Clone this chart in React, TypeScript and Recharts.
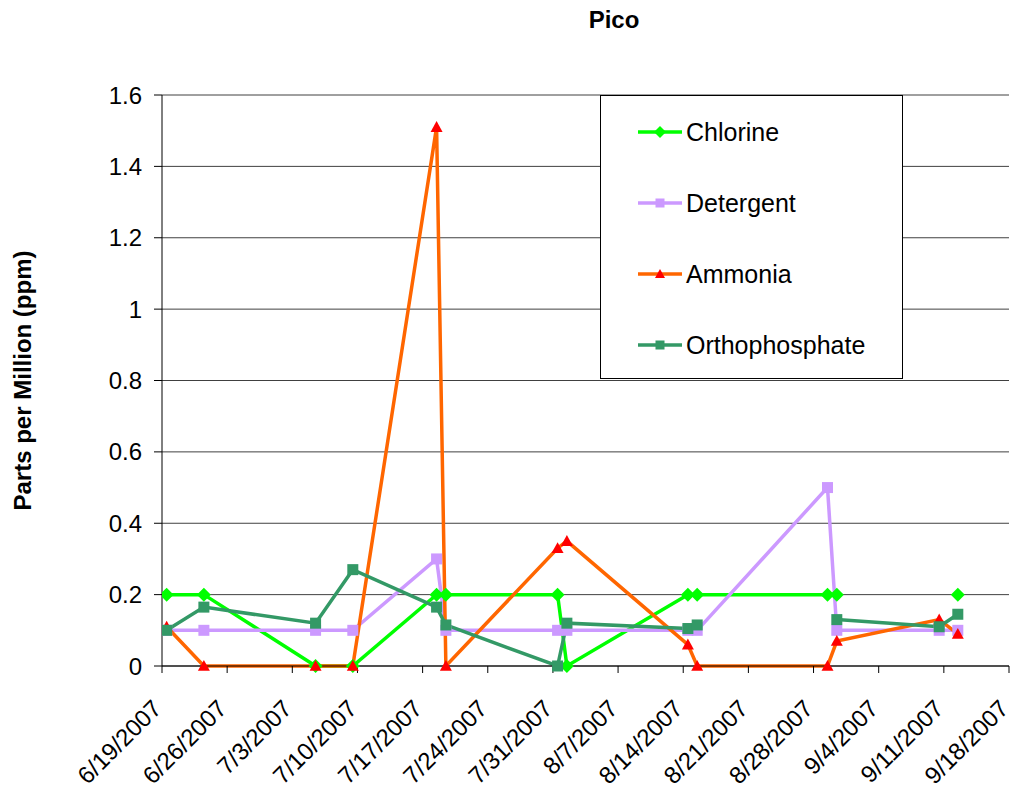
import { CartesianGrid, Legend, Line, LineChart, XAxis, YAxis } from "recharts";

// sample dates and readings (ppm)
const sampleDates = [
    "6/19/2007", "6/23/2007", "7/5/2007", "7/9/2007", "7/18/2007", "7/19/2007", "7/31/2007",
    "8/1/2007", "8/14/2007", "8/15/2007", "8/29/2007", "8/30/2007", "9/10/2007", "9/12/2007",
];
const chlorine = [0.2, 0.2, 0, 0, 0.2, 0.2, 0.2, 0, 0.2, 0.2, 0.2, 0.2, null, 0.2];
const detergent = [0.1, 0.1, 0.1, 0.1, 0.3, 0.1, 0.1, 0.1, 0.1, 0.1, 0.5, 0.1, 0.1, 0.1];
const ammonia = [0.11, 0, 0, 0, 1.51, 0, 0.33, 0.35, 0.06, 0, 0, 0.07, 0.13, 0.09];
const orthophosphate = [0.1, 0.165, 0.12, 0.27, 0.165, 0.115, 0, 0.12, 0.105, 0.115, null, 0.13, 0.11, 0.145];

const tickDates = [
    "6/19/2007", "6/26/2007", "7/3/2007", "7/10/2007", "7/17/2007", "7/24/2007", "7/31/2007",
    "8/7/2007", "8/14/2007", "8/21/2007", "8/28/2007", "9/4/2007", "9/11/2007", "9/18/2007",
];
const yTicks = [0, 0.2, 0.4, 0.6, 0.8, 1, 1.2, 1.4, 1.6];

const FONT = '"Liberation Sans", Arial, sans-serif';

// days since the first tick date
const dayOf = (s: string) => {
    const [m, d, y] = s.split("/").map(Number);
    return (Date.UTC(y, m - 1, d) - Date.UTC(2007, 5, 19)) / 86400000;
};
const labelOf = new Map(tickDates.map((t) => [dayOf(t), t]));

// Excel puts each date in the middle of its day
const data = sampleDates.map((s, i) => ({
    x: dayOf(s) + 0.5,
    chlorine: chlorine[i],
    detergent: detergent[i],
    ammonia: ammonia[i],
    orthophosphate: orthophosphate[i],
}));

type Shape = "diamond" | "square" | "triangle";

function marker(shape: Shape, cx: number, cy: number, size: number, fill: string, key?: any) {
    const r = size / 2;
    if (shape === "diamond")
        return <path key={key} d={`M${cx},${cy - r}L${cx + r},${cy}L${cx},${cy + r}L${cx - r},${cy}Z`} fill={fill} />;
    if (shape === "square")
        return <rect key={key} x={cx - r} y={cy - r} width={size} height={size} fill={fill} />;
    return <path key={key} d={`M${cx},${cy - r}L${cx + r},${cy + r * 0.8}L${cx - r},${cy + r * 0.8}Z`} fill={fill} />;
}

const series = [
    { key: "chlorine", name: "Chlorine", stroke: "#00FF00", fill: "#00FF00", shape: "diamond" as Shape, size: 14 },
    { key: "detergent", name: "Detergent", stroke: "#CC99FF", fill: "#CC99FF", shape: "square" as Shape, size: 11 },
    { key: "ammonia", name: "Ammonia", stroke: "#FF6600", fill: "#FF0000", shape: "triangle" as Shape, size: 12 },
    { key: "orthophosphate", name: "Orthophosphate", stroke: "#339966", fill: "#339966", shape: "square" as Shape, size: 11 },
];

const DateTick = ({ x, y, payload }: any) => {
    const px = x + 1;
    const py = y + 37;
    return (
        <text x={px} y={py} transform={`rotate(-45 ${px} ${py})`} textAnchor="end"
              fontSize={24} fontFamily={FONT} fill="#000">
            {labelOf.get(payload.value) ?? ""}
        </text>
    );
};

const LegendBox = () => (
    <div style={{
        width: 301, height: 282, border: "1px solid #000", background: "#fff",
        fontFamily: FONT, fontSize: 25, boxSizing: "content-box",
    }}>
        {series.map((s, i) => (
            <div key={s.key} style={{ position: "absolute", left: 38, top: 37 + i * 71 - 16, height: 32, display: "flex", alignItems: "center" }}>
                <svg width={44} height={20} style={{ marginRight: 4 }}>
                    <line x1={0} y1={10} x2={44} y2={10} stroke={s.stroke} strokeWidth={3.5} />
                    {marker(s.shape, 22, 10, s.size - 2, s.fill)}
                </svg>
                <span>{s.name}</span>
            </div>
        ))}
    </div>
);

export default function App() {
    return (
        <div style={{ position: "absolute", left: 0, top: 0, width: 1019, height: 789, background: "#fff" }}>
            <div style={{
                position: "absolute", left: 0, width: 1228, top: 6, textAlign: "center",
                fontFamily: FONT, fontSize: 24, fontWeight: "bold",
            }}>
                Pico
            </div>
            <LineChart width={1019} height={789} data={data} margin={{ top: 95, right: 10, bottom: 10, left: 0 }}>
                <CartesianGrid vertical={false} stroke="#404040" />
                <XAxis dataKey="x" type="number" domain={[0, 91]} ticks={tickDates.map(dayOf)}
                       allowDataOverflow height={113} tickSize={7} tickMargin={0}
                       stroke="#000" tick={<DateTick />} interval={0} />
                <YAxis domain={[0, 1.6]} ticks={yTicks} width={162} tickSize={8} tickMargin={12}
                       stroke="#000" interval={0}
                       tick={{ fontSize: 24, fontFamily: FONT, fill: "#000" }}
                       label={{
                           value: "Parts per Million (ppm)", angle: -90, position: "insideLeft", offset: 22,
                           style: { textAnchor: "middle", fontWeight: "bold", fontSize: 24, fontFamily: FONT, fill: "#000" },
                       }} />
                <Legend layout="vertical" align="center" verticalAlign="middle" content={<LegendBox />}
                        wrapperStyle={{ left: 600, top: 95, width: 303, height: 284 }} />
                {series.map((s) => (
                    <Line key={s.key} dataKey={s.key} name={s.name} stroke={s.stroke} strokeWidth={3.5}
                          isAnimationActive={false} connectNulls={false}
                          dot={(p: any) => (p.cx == null || p.cy == null || p.value == null
                              ? <g key={p.index} />
                              : marker(s.shape, p.cx, p.cy, s.size, s.fill, p.index))}
                          activeDot={false} />
                ))}
            </LineChart>
        </div>
    );
}
